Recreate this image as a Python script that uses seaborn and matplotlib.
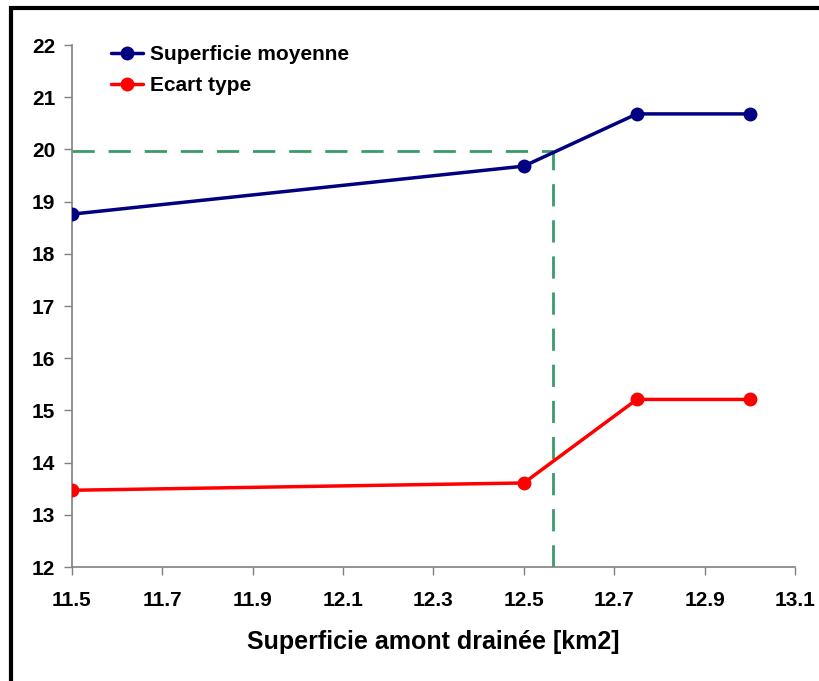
import numpy as np
import pandas as pd
import matplotlib
matplotlib.use("Agg")
import matplotlib.pyplot as plt
import seaborn as sns
from matplotlib.patches import Rectangle

# data
superficie = [11.5, 12.5, 12.75, 13.0]
moyenne = [18.76, 19.68, 20.68, 20.68]
ecart_type = [13.47, 13.61, 15.21, 15.21]

# green guide lines
x_guide = 12.565
y_guide = 19.97

x_ticks = [11.5, 11.7, 11.9, 12.1, 12.3, 12.5, 12.7, 12.9, 13.1]
y_ticks = list(range(12, 23))

df = pd.DataFrame({
    "x": superficie * 2,
    "y": moyenne + ecart_type,
    "serie": ["Superficie moyenne"] * 4 + ["Ecart type"] * 4,
})

sns.set_style("white")
plt.rcParams["font.family"] = ["Liberation Sans", "DejaVu Sans"]
plt.rcParams["text.color"] = "black"
plt.rcParams["axes.labelcolor"] = "black"
plt.rcParams["xtick.color"] = "black"
plt.rcParams["ytick.color"] = "black"

fig = plt.figure(figsize=(8.19, 6.81), dpi=100)
ax = fig.add_axes([0.0879, 0.1674, 0.9707 - 0.0879, 0.9339 - 0.1674])

# guide lines drawn first so the series sit on top
ax.plot([11.5, x_guide], [y_guide, y_guide], color="#3a9a6a", lw=2,
        dashes=(8, 5), zorder=1)
ax.plot([x_guide, x_guide], [12, y_guide], color="#3a9a6a", lw=2,
        dashes=(8, 5), zorder=1)

sns.lineplot(data=df, x="x", y="y", hue="serie",
             palette={"Superficie moyenne": "#000080", "Ecart type": "#ff0000"},
             marker="o", markersize=10, markeredgewidth=0, lw=2.5,
             ax=ax, zorder=3)

ax.set_xlim(11.5, 13.1)
ax.set_ylim(12, 22)
ax.set_xticks(x_ticks)
ax.set_xticklabels([f"{t:.1f}" for t in x_ticks])
ax.set_yticks(y_ticks)
for lab in ax.get_xticklabels() + ax.get_yticklabels():
    lab.set_fontweight("bold")
    lab.set_fontsize(15)
ax.tick_params(axis="both", direction="out", length=6, width=1,
               color="#808080", bottom=True, left=True)
ax.tick_params(axis="x", pad=11)
ax.tick_params(axis="y", pad=6)

for side in ["top", "right"]:
    ax.spines[side].set_visible(False)
for side in ["left", "bottom"]:
    ax.spines[side].set_color("#808080")
    ax.spines[side].set_linewidth(1.2)

ax.set_xlabel("Superficie amont drainée [km2]", fontsize=18,
              fontweight="bold", labelpad=15)
ax.set_ylabel("")

leg = ax.legend(loc="upper left", bbox_to_anchor=(0.028, 1.035), frameon=False,
                prop={"weight": "bold", "size": 15}, handlelength=1.55,
                handletextpad=0.3, labelspacing=0.55)

# black frame around the chart area
fig.patches.append(Rectangle((11 / 819, -0.1), 1.2, 1 - 8 / 681 + 0.1,
                             transform=fig.transFigure, fill=False,
                             edgecolor="black", lw=3, zorder=10))

fig.savefig("out.png", dpi=100)
